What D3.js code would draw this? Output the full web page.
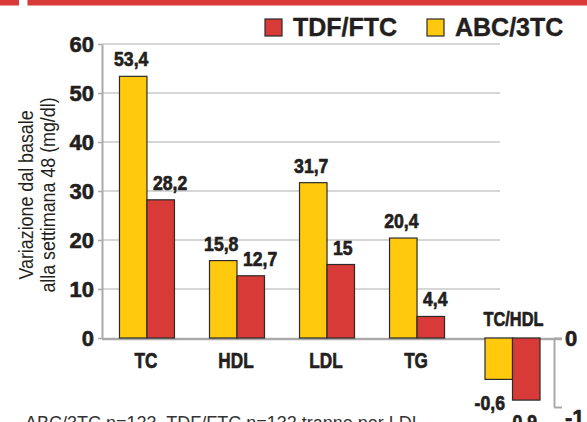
<!DOCTYPE html>
<html>
<head>
<meta charset="utf-8">
<script src="https://cdn.jsdelivr.net/npm/d3@7"></script>
<style>
  html, body { margin: 0; padding: 0; background: #fff; }
  svg { display: block; }
</style>
</head>
<body>
<svg id="chart" width="587" height="422"></svg>
<script>
// ---- data ----
const categories = ["TC", "HDL", "LDL", "TG"];
const ratioCategories = ["TC/HDL"];
const seriesNames = ["ABC/3TC", "TDF/FTC"];
const abcValues = [53.4, 15.8, 31.7, 20.4];
const tdfValues = [28.2, 12.7, 15, 4.4];
const abcRatioValues = [-0.6];
const tdfRatioValues = [-0.9];
const leftTicks = [0, 10, 20, 30, 40, 50, 60];
const rightTicks = [0, -1];
const legendOrder = ["TDF/FTC", "ABC/3TC"];
const yTitleLines = ["Variazione dal basale", "alla settimana 48 (mg/dl)"];
const footnote = "ABC/3TC n=123, TDF/FTC n=132 tranne per LDL";

// ---- styles ----
const colors = { "ABC/3TC": "#ffc90e", "TDF/FTC": "#d73a37" };
const ink = "#231f20";
const font = '"Liberation Sans", Arial, sans-serif';

const svg = d3.select("#chart");
const fmt = v => String(v).replace(".", ",");
// condensed text placement helper
const place = (sel, xf, yf, sx) => sel.attr("transform", (d, i) => `translate(${xf(d, i)},${yf(d, i)}) scale(${sx},1)`);
// heavy bold look
const heavy = (sel, w) => sel.attr("font-family", font).attr("font-weight", "bold").attr("fill", ink)
  .attr("stroke", ink).attr("stroke-width", w).attr("stroke-linejoin", "round");

// top red band
svg.append("rect").attr("x", 0).attr("y", 0).attr("width", 19).attr("height", 5.5).attr("fill", "#d73a37");
svg.append("rect").attr("x", 27.5).attr("y", 0).attr("width", 587 - 27.5).attr("height", 5.5).attr("fill", "#d73a37");

// scales
const axisX = 102;
const y = d3.scaleLinear().domain([0, 60]).range([338, 44]);
const yR = d3.scaleLinear().domain([-1, 0]).range([407, 338]);
const x = d3.scaleBand().domain(categories).range([axisX, 462]).paddingInner(0.389).paddingOuter(0.194);
const xR = d3.scaleBand().domain(ratioCategories).range([467.5, 557.5]).paddingInner(0.389).paddingOuter(0.194);
const xs = d3.scaleBand().domain(seriesNames).range([0, x.bandwidth()]);

// gridlines
svg.append("g").selectAll("line").data(leftTicks.filter(t => t !== 0)).join("line")
  .attr("x1", axisX).attr("x2", 500)
  .attr("y1", d => y(d)).attr("y2", d => y(d))
  .attr("stroke", "#c8c8c8").attr("stroke-width", 1.5);

// left axis
const gL = svg.append("g").attr("transform", `translate(${axisX},0)`)
  .call(d3.axisLeft(y).tickValues(leftTicks).tickSize(4).tickSizeOuter(0).tickPadding(4).tickFormat(fmt));
gL.select(".domain").attr("stroke", "#aaa").attr("stroke-width", 2);
gL.selectAll(".tick line").attr("stroke", "#aaa").attr("stroke-width", 1.5);
heavy(gL.selectAll(".tick text"), 0.6).attr("font-size", 22).attr("dy", "0.36em");

// zero line
svg.append("line").attr("x1", axisX).attr("x2", 562)
  .attr("y1", y(0) + 1).attr("y2", y(0) + 1)
  .attr("stroke", "#aaa").attr("stroke-width", 2.5);

// right axis
const gR = svg.append("g").attr("transform", "translate(554,0)")
  .call(d3.axisRight(yR).tickValues(rightTicks).tickSize(8).tickSizeOuter(0).tickPadding(3).tickFormat(fmt));
gR.select(".domain").attr("stroke", "#aaa").attr("stroke-width", 2);
gR.selectAll(".tick line").attr("stroke", "#aaa").attr("stroke-width", 2);
heavy(gR.selectAll(".tick text"), 0.6).attr("font-size", 22)
  .attr("dy", d => d === 0 ? "0.36em" : "0.8em");

// bars
const vLabelSize = 21, vLabelScale = 0.84;
const catSize = 22, catScale = 0.78;

function drawGroup(cat, vals, xScale, yScale, isRatio) {
  const g = svg.append("g").attr("transform", `translate(${xScale(cat)},0)`);
  g.selectAll("rect").data(vals).join("rect")
    .attr("x", d => xs(d.s)).attr("width", xs.bandwidth())
    .attr("y", d => Math.min(yScale(d.v), yScale(0)))
    .attr("height", d => Math.abs(yScale(0) - yScale(d.v)))
    .attr("fill", d => colors[d.s]).attr("stroke", "#2b2b2b").attr("stroke-width", 1.2);
  const labels = g.selectAll("text.val").data(vals).join("text").attr("class", "val")
    .attr("font-size", vLabelSize).text(d => fmt(d.v));
  heavy(labels, 0.7);
  if (!isRatio) {
    labels.attr("text-anchor", d => d.s === "ABC/3TC" ? "middle" : "start");
    place(labels,
      d => d.s === "ABC/3TC" ? xs(d.s) + xs.bandwidth() / 2 - 2 : xs(d.s) + 6,
      d => yScale(d.v) - 10, vLabelScale);
  } else {
    labels.attr("text-anchor", "middle");
    place(labels,
      d => xs(d.s) + xs.bandwidth() / 2 + (d.s === "ABC/3TC" ? -9 : -4.5),
      d => yScale(d.v) + (d.s === "ABC/3TC" ? 30.5 : 29), vLabelScale);
  }
  const cl = g.append("text").datum(cat).attr("text-anchor", "middle")
    .attr("font-size", isRatio ? 21 : catSize).text(cat);
  heavy(cl, 0.7);
  place(cl, () => xScale.bandwidth() / 2 + (isRatio ? 1 : -1), () => isRatio ? 326 : 368, catScale);
}

categories.forEach((c, i) => drawGroup(c,
  [{ s: "ABC/3TC", v: abcValues[i] }, { s: "TDF/FTC", v: tdfValues[i] }], x, y, false));
ratioCategories.forEach((c, i) => drawGroup(c,
  [{ s: "ABC/3TC", v: abcRatioValues[i] }, { s: "TDF/FTC", v: tdfRatioValues[i] }], xR, yR, true));

// legend
const legendX = [265, 427];
legendOrder.forEach((s, i) => {
  svg.append("rect").attr("x", legendX[i]).attr("y", 19).attr("width", 17).attr("height", 17)
    .attr("fill", colors[s]).attr("stroke", "#2b2b2b").attr("stroke-width", 1.2);
  heavy(svg.append("text").attr("x", legendX[i] + 28).attr("y", 36), 0.4)
    .attr("font-size", 25).text(s);
});

// y title
yTitleLines.forEach((t, i) => {
  svg.append("text").attr("transform", `translate(${33 + i * 22},195) rotate(-90) scale(0.85,1)`)
    .attr("text-anchor", "middle").attr("font-family", font).attr("font-size", 21)
    .attr("fill", ink).text(t);
});

// footnote
svg.append("text").attr("x", 25).attr("y", 429)
  .attr("font-family", font).attr("font-size", 18).attr("fill", "#333").text(footnote);
</script>
</body>
</html>
